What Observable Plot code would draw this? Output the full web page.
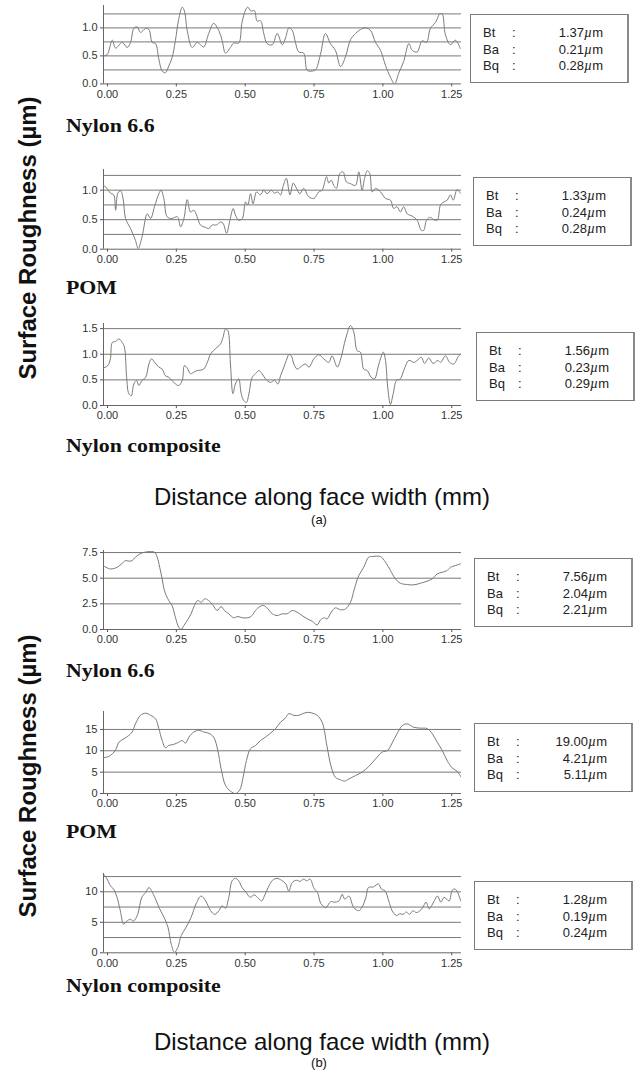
<!DOCTYPE html>
<html>
<head>
<meta charset="utf-8">
<script src="https://cdn.jsdelivr.net/npm/d3@7"></script>
<script src="https://cdn.jsdelivr.net/npm/@observablehq/plot@0.6"></script>
<style>
  html, body { margin: 0; padding: 0; background: #fff; }
  #page { position: relative; width: 635px; height: 1074px; overflow: hidden; background: #fff; }
  .ytitle { position: absolute; font-family: "Liberation Sans", Arial, sans-serif; font-weight: bold; font-size: 24px; color: #111; white-space: nowrap; transform: translate(-50%, -50%) rotate(-90deg); }
  .xtitle { position: absolute; font-family: "Liberation Sans", Arial, sans-serif; font-size: 24px; color: #111; white-space: nowrap; transform: translate(-50%, -50%); }
  .sub { position: absolute; font-family: "Liberation Sans", Arial, sans-serif; font-size: 13px; color: #111; transform: translate(-50%, -50%); }
  .mat { position: absolute; font-family: "Liberation Serif", "Times New Roman", serif; font-weight: bold; font-size: 19px; color: #111; white-space: nowrap; transform-origin: left center; transform: translateY(-50%) scaleX(1.15); }
  .box { position: absolute; border: 1px solid #7a7a7a; border-right: 2px solid #8a8a8a; background: #fff; box-sizing: border-box; font-family: "Liberation Sans", Arial, sans-serif; font-size: 13px; color: #222; }
  .row { position: absolute; left: 0; right: 0; height: 16px; line-height: 16px; }
  .row .k { position: absolute; left: 12px; }
  .row .c { position: absolute; left: 41px; }
  .row .v { position: absolute; right: 24px; white-space: nowrap; }
  .row .v i { font-style: italic; font-family: "Liberation Serif", serif; font-size: 14px; }
</style>
</head>
<body>
<div id="page"></div>
<script>
// Profile traces: [distance along face width (mm), surface height (µm)]
const nylon66A = [[0,0.5],[0.013,0.52],[0.032,0.78],[0.044,0.64],[0.068,0.74],[0.086,0.65],[0.098,0.74],[0.110,0.99],[0.122,1.02],[0.134,0.92],[0.153,0.99],[0.165,0.97],[0.177,0.74],[0.189,0.72],[0.201,0.44],[0.213,0.23],[0.225,0.2],[0.237,0.32],[0.249,0.47],[0.261,0.77],[0.273,1.15],[0.286,1.37],[0.294,1.3],[0.304,0.95],[0.322,0.65],[0.340,0.74],[0.352,0.7],[0.364,0.66],[0.382,0.9],[0.400,1.08],[0.419,0.95],[0.431,0.77],[0.443,0.55],[0.461,0.65],[0.473,0.73],[0.491,0.73],[0.503,1.1],[0.516,1.32],[0.524,1.37],[0.536,1.3],[0.548,1.31],[0.558,1.12],[0.570,1.13],[0.582,0.9],[0.594,0.72],[0.613,0.7],[0.631,0.9],[0.649,0.7],[0.661,0.82],[0.673,1.0],[0.685,0.96],[0.697,0.74],[0.709,0.57],[0.727,0.55],[0.740,0.24],[0.758,0.23],[0.770,0.25],[0.788,0.53],[0.806,0.9],[0.824,0.72],[0.842,0.6],[0.861,0.31],[0.879,0.49],[0.897,0.79],[0.915,0.9],[0.933,0.97],[0.951,1.0],[0.969,0.96],[0.988,0.74],[1.006,0.6],[1.024,0.33],[1.042,0.12],[1.057,0.0],[1.072,0.19],[1.090,0.4],[1.109,0.72],[1.121,0.6],[1.139,0.57],[1.157,0.77],[1.173,0.74],[1.187,0.99],[1.206,1.1],[1.221,1.25],[1.230,1.25],[1.242,0.87],[1.260,0.7],[1.278,0.78],[1.296,0.63]];

const pomA = [[0,1.08],[0.013,1.03],[0.025,0.95],[0.037,0.92],[0.044,0.66],[0.052,0.95],[0.062,0.99],[0.071,0.86],[0.080,0.52],[0.098,0.35],[0.116,0.15],[0.126,0.01],[0.140,0.21],[0.159,0.6],[0.171,0.52],[0.185,0.72],[0.201,0.94],[0.209,1.0],[0.219,0.86],[0.231,0.55],[0.249,0.52],[0.268,0.55],[0.280,0.38],[0.292,0.52],[0.304,0.84],[0.316,0.63],[0.328,0.66],[0.340,0.55],[0.352,0.41],[0.370,0.37],[0.382,0.35],[0.395,0.41],[0.410,0.41],[0.425,0.46],[0.434,0.44],[0.447,0.27],[0.459,0.49],[0.471,0.69],[0.479,0.58],[0.491,0.49],[0.504,0.52],[0.516,0.8],[0.524,0.75],[0.534,0.94],[0.543,0.77],[0.556,0.97],[0.570,0.92],[0.582,1.0],[0.594,0.94],[0.609,1.0],[0.621,0.95],[0.633,0.97],[0.643,0.92],[0.652,1.06],[0.664,1.2],[0.677,0.92],[0.689,1.12],[0.701,1.03],[0.713,0.94],[0.727,1.03],[0.745,0.89],[0.764,0.86],[0.782,0.97],[0.794,1.0],[0.810,1.23],[0.818,1.12],[0.827,1.17],[0.836,1.08],[0.846,1.03],[0.858,1.28],[0.870,1.31],[0.882,1.14],[0.897,1.11],[0.915,1.08],[0.927,1.31],[0.939,1.0],[0.948,1.2],[0.958,1.33],[0.967,1.28],[0.976,0.97],[0.988,1.03],[1.006,0.97],[1.024,0.86],[1.042,0.83],[1.054,0.69],[1.066,0.72],[1.078,0.63],[1.090,0.72],[1.103,0.6],[1.121,0.56],[1.139,0.49],[1.154,0.32],[1.163,0.32],[1.173,0.49],[1.187,0.54],[1.199,0.5],[1.212,0.49],[1.224,0.75],[1.236,0.8],[1.248,0.83],[1.260,0.92],[1.270,0.83],[1.284,1.01],[1.296,0.95]];

const compositeA = [[0,0.73],[0.016,0.78],[0.025,0.91],[0.032,1.23],[0.044,1.25],[0.056,1.3],[0.068,1.23],[0.076,1.14],[0.084,0.55],[0.092,0.23],[0.101,0.19],[0.110,0.42],[0.120,0.49],[0.128,0.39],[0.140,0.49],[0.153,0.55],[0.165,0.81],[0.174,0.91],[0.186,0.84],[0.201,0.75],[0.213,0.71],[0.225,0.58],[0.237,0.55],[0.249,0.49],[0.261,0.42],[0.273,0.39],[0.286,0.49],[0.294,0.78],[0.304,0.73],[0.316,0.62],[0.328,0.65],[0.340,0.68],[0.352,0.69],[0.364,0.71],[0.377,0.84],[0.389,1.01],[0.400,1.07],[0.413,1.14],[0.425,1.2],[0.434,1.33],[0.443,1.49],[0.451,1.47],[0.461,0.81],[0.470,0.23],[0.479,0.42],[0.491,0.52],[0.500,0.23],[0.509,0.1],[0.519,0.06],[0.528,0.23],[0.540,0.55],[0.552,0.62],[0.564,0.68],[0.576,0.62],[0.588,0.52],[0.606,0.45],[0.621,0.49],[0.633,0.42],[0.643,0.58],[0.655,0.75],[0.664,0.88],[0.673,0.99],[0.682,0.97],[0.691,0.81],[0.703,0.71],[0.715,0.75],[0.733,0.81],[0.746,0.75],[0.764,0.91],[0.782,0.99],[0.800,0.91],[0.818,0.84],[0.830,0.97],[0.849,0.75],[0.863,0.94],[0.879,1.3],[0.897,1.56],[0.909,1.43],[0.921,1.07],[0.933,1.04],[0.945,0.71],[0.958,0.68],[0.972,0.55],[0.984,0.52],[1.000,0.81],[1.016,1.04],[1.024,0.88],[1.032,0.36],[1.042,0.02],[1.052,0.23],[1.064,0.49],[1.078,0.52],[1.090,0.68],[1.109,0.88],[1.127,0.84],[1.139,0.88],[1.154,0.94],[1.166,0.82],[1.181,0.93],[1.197,0.82],[1.214,0.88],[1.224,0.84],[1.242,0.97],[1.257,0.84],[1.272,0.81],[1.290,0.97],[1.300,1.01]];

const nylon66B = [[0,6.2],[0.025,5.9],[0.050,6.07],[0.068,6.46],[0.080,6.72],[0.092,6.66],[0.104,6.72],[0.116,7.05],[0.134,7.4],[0.153,7.55],[0.171,7.6],[0.185,7.55],[0.195,7.05],[0.204,6.07],[0.213,4.94],[0.221,3.8],[0.237,2.82],[0.249,2.34],[0.261,1.2],[0.273,0.23],[0.282,0],[0.292,0.39],[0.304,0.88],[0.318,1.53],[0.330,2.34],[0.342,2.82],[0.356,2.66],[0.367,2.99],[0.382,2.82],[0.398,2.34],[0.413,1.85],[0.427,2.24],[0.439,1.85],[0.455,1.53],[0.473,1.14],[0.488,1.27],[0.504,1.14],[0.522,1.14],[0.536,1.27],[0.552,1.85],[0.568,2.24],[0.582,2.34],[0.597,2.01],[0.613,1.53],[0.631,1.36],[0.649,1.53],[0.667,1.53],[0.685,1.85],[0.703,1.69],[0.721,1.36],[0.740,1.04],[0.758,0.8],[0.776,0.45],[0.788,0.94],[0.802,1.14],[0.812,1.04],[0.827,1.69],[0.842,2.11],[0.861,1.92],[0.879,2.01],[0.897,2.66],[0.911,3.96],[0.927,5.26],[0.945,6.07],[0.963,7.05],[0.976,7.11],[1.006,7.11],[1.024,6.56],[1.042,5.75],[1.060,4.94],[1.078,4.51],[1.103,4.38],[1.127,4.35],[1.151,4.51],[1.175,4.71],[1.194,4.94],[1.212,5.42],[1.230,5.58],[1.248,5.75],[1.260,6.07],[1.278,6.23],[1.296,6.4]];

const pomB = [[0,8.36],[0.019,8.67],[0.032,9.3],[0.044,10.2],[0.056,12.0],[0.074,12.8],[0.092,13.6],[0.104,14.4],[0.116,16.3],[0.134,18.3],[0.153,18.8],[0.171,18.3],[0.189,17.5],[0.201,15.2],[0.213,12.4],[0.225,10.7],[0.237,11.25],[0.255,11.5],[0.273,12.0],[0.286,12.4],[0.298,11.8],[0.310,13.2],[0.328,14.4],[0.346,14.8],[0.364,14.4],[0.382,14.1],[0.400,13.2],[0.415,10.1],[0.427,5.8],[0.443,1.9],[0.461,0.55],[0.479,0.0],[0.495,0.86],[0.507,3.8],[0.519,7.7],[0.534,10.5],[0.552,11.25],[0.570,12.4],[0.588,13.2],[0.606,14.1],[0.625,15.2],[0.643,16.7],[0.661,17.7],[0.673,18.7],[0.691,18.3],[0.709,18.3],[0.727,18.8],[0.745,19.0],[0.764,18.7],[0.776,18.3],[0.794,16.7],[0.812,10.9],[0.827,6.2],[0.842,3.8],[0.861,3.2],[0.875,2.9],[0.891,3.4],[0.915,4.2],[0.939,5.0],[0.963,6.3],[0.988,8.1],[1.012,9.7],[1.032,10.1],[1.048,11.8],[1.066,14.0],[1.085,15.9],[1.103,16.3],[1.127,15.5],[1.151,15.3],[1.175,15.2],[1.194,14.0],[1.212,12.0],[1.230,10.1],[1.248,7.7],[1.266,6.0],[1.284,5.2],[1.300,3.7]];

const compositeB = [[0,12.9],[0.013,12.1],[0.025,11.0],[0.037,10.4],[0.049,9.1],[0.061,6.9],[0.073,4.7],[0.085,5.2],[0.097,5.5],[0.109,5.2],[0.124,6.3],[0.139,9.1],[0.153,9.9],[0.165,10.7],[0.174,10.2],[0.189,8.8],[0.204,7.2],[0.220,5.8],[0.234,4.2],[0.246,1.4],[0.258,0.05],[0.270,0.9],[0.282,2.8],[0.300,4.2],[0.318,5.8],[0.336,8.0],[0.354,9.3],[0.371,8.5],[0.389,6.9],[0.404,6.3],[0.419,6.9],[0.431,7.7],[0.443,7.3],[0.455,9.1],[0.467,11.8],[0.479,12.2],[0.491,11.8],[0.503,10.7],[0.518,9.9],[0.533,9.1],[0.547,9.5],[0.559,9.1],[0.574,8.5],[0.586,9.5],[0.598,10.7],[0.614,11.9],[0.630,12.2],[0.646,11.9],[0.662,11.3],[0.673,10.1],[0.685,11.5],[0.700,11.9],[0.714,11.7],[0.726,12.1],[0.738,11.8],[0.750,12.1],[0.765,10.5],[0.777,9.9],[0.789,8.1],[0.807,7.4],[0.825,8.4],[0.837,8.3],[0.855,8.5],[0.867,9.6],[0.876,8.8],[0.891,9.3],[0.909,7.4],[0.927,6.9],[0.938,7.4],[0.953,9.1],[0.962,10.7],[0.980,10.8],[0.998,11.3],[1.010,10.4],[1.022,10.2],[1.036,8.5],[1.048,6.9],[1.064,6.1],[1.076,6.4],[1.088,6.3],[1.100,6.7],[1.111,6.3],[1.124,6.9],[1.135,6.6],[1.147,6.8],[1.159,7.4],[1.171,8.3],[1.183,7.2],[1.195,8.0],[1.213,9.3],[1.225,8.3],[1.237,9.1],[1.255,8.5],[1.267,10.3],[1.279,10.4],[1.297,8.5]];

// Axis ticks
const xTicks = [0, 0.25, 0.5, 0.75, 1.0, 1.25];
const ticksSmall = [0, 0.5, 1.0];
const gridSmall = [0.25, 0.5, 0.75, 1.0, 1.25];
const ticksComposite = [0, 0.5, 1.0, 1.5];
const gridComposite = [0.5, 1.0, 1.5];
const ticksNylonB = [0, 2.5, 5.0, 7.5];
const ticksPomB = [0, 5, 10, 15];
const ticksCompositeB = [0, 5, 10];
const gridCompositeB = [2.5, 5, 7.5, 10, 12.5];

// Roughness parameters (µm)
const statLabels = ["Bt", "Ba", "Bq"];
const statsNylonA = [1.37, 0.21, 0.28];
const statsPomA = [1.33, 0.24, 0.28];
const statsCompositeA = [1.56, 0.23, 0.29];
const statsNylonB = [7.56, 2.04, 2.21];
const statsPomB = [19.00, 4.21, 5.11];
const statsCompositeB = [1.28, 0.19, 0.24];

const materials = ["Nylon 6.6", "POM", "Nylon composite"];

const page = document.getElementById("page");

function profile(data, o) {
  const mt = 6, mb = 24;
  const h = mt + (o.zeroPx - o.topPx) + mb;
  const chart = Plot.plot({
    width: 472, height: h,
    marginLeft: 103, marginRight: 11, marginTop: mt, marginBottom: mb,
    x: {domain: [0, 1.3]},
    y: {domain: [0, o.yMax]},
    style: {fontFamily: "'Liberation Sans', Arial, sans-serif", fontSize: "11px", color: "#333", background: "transparent", overflow: "visible"},
    marks: [
      Plot.ruleY(o.grid, {stroke: "#777", strokeWidth: 1}),
      Plot.axisY({ticks: o.yTicks, tickFormat: o.fmt, tickSize: 3, tickPadding: 3, label: null, stroke: "#555"}),
      Plot.axisX({ticks: xTicks, tickFormat: d3.format(".2f"), tickSize: 3, tickPadding: 3, label: null, stroke: "#555", dx: 4}),
      Plot.ruleX([0], {stroke: "#666"}),
      Plot.ruleY([0], {stroke: "#666"}),
      Plot.line(data, {x: d => d[0], y: d => d[1], stroke: "#7a7a7a", strokeWidth: 1, curve: "catmull-rom", clip: true})
    ]
  });
  chart.style.position = "absolute";
  chart.style.left = "0px";
  chart.style.top = (o.topPx - mt) + "px";
  page.appendChild(chart);
}

function statBox(values, left, top) {
  const box = document.createElement("div");
  box.className = "box";
  Object.assign(box.style, {left: left + "px", top: top + "px", width: "159px", height: "69px"});
  values.forEach((v, i) => {
    const row = document.createElement("div");
    row.className = "row";
    row.style.top = (10 + i * 16.5) + "px";
    row.innerHTML = `<span class="k">${statLabels[i]}</span><span class="c">:</span><span class="v">${v.toFixed(2)}<i>µ</i>m</span>`;
    box.appendChild(row);
  });
  page.appendChild(box);
}

function label(cls, text, x, y) {
  const el = document.createElement("div");
  el.className = cls;
  el.textContent = text;
  el.style.left = x + "px";
  el.style.top = y + "px";
  page.appendChild(el);
}

const f1 = d3.format(".1f");
const f0 = d3.format("d");

// (a) top group
profile(nylon66A, {topPx: 4.6, zeroPx: 83, yMax: 1.4, yTicks: ticksSmall, grid: gridSmall, fmt: f1});
profile(pomA, {topPx: 169.3, zeroPx: 249, yMax: 1.35, yTicks: ticksSmall, grid: gridSmall, fmt: f1});
profile(compositeA, {topPx: 323, zeroPx: 405, yMax: 1.6, yTicks: ticksComposite, grid: gridComposite, fmt: f1});
// (b) bottom group
profile(nylon66B, {topPx: 550, zeroPx: 629, yMax: 7.7, yTicks: ticksNylonB, grid: ticksNylonB.slice(1), fmt: f1});
profile(pomB, {topPx: 711, zeroPx: 793, yMax: 19.2, yTicks: ticksPomB, grid: ticksPomB.slice(1), fmt: f0});
profile(compositeB, {topPx: 872.7, zeroPx: 952, yMax: 13, yTicks: ticksCompositeB, grid: gridCompositeB, fmt: f0});

statBox(statsNylonA, 470, 14);
statBox(statsPomA, 473, 177);
statBox(statsCompositeA, 476, 332);
statBox(statsNylonB, 474, 558);
statBox(statsPomB, 474, 723);
statBox(statsCompositeB, 474, 881);

label("mat", materials[0], 66, 126);
label("mat", materials[1], 66, 288);
label("mat", materials[2], 66, 446);
label("mat", materials[0], 66, 671);
label("mat", materials[1], 66, 832);
label("mat", materials[2], 66, 986);

label("ytitle", "Surface Roughness (µm)", 28, 238);
label("ytitle", "Surface Roughness (µm)", 28, 776);
label("xtitle", "Distance along face width (mm)", 322, 497);
label("sub", "(a)", 319, 519);
label("xtitle", "Distance along face width (mm)", 322, 1042);
label("sub", "(b)", 319, 1062);
</script>
</body>
</html>
